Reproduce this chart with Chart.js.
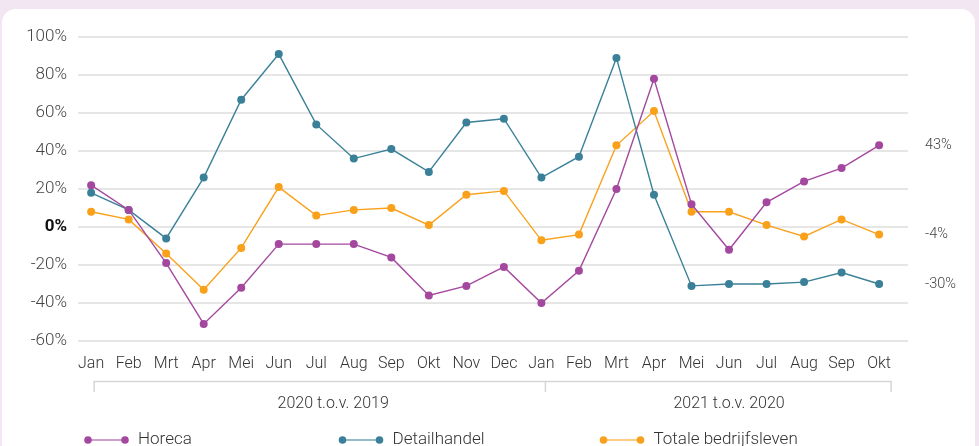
<!DOCTYPE html>
<html>
<head>
<meta charset="utf-8">
<script src="https://cdn.jsdelivr.net/npm/chart.js@4/dist/chart.umd.min.js"></script>
<style>
html,body{margin:0;padding:0;background:#f2e6f2;}
#wrap{position:relative;width:979px;height:446px;overflow:hidden;}
#card{position:absolute;left:2px;top:9px;width:973px;height:460px;background:#fff;border-radius:14px;}
#chart{position:absolute;left:0;top:0;}
</style>
</head>
<body>
<div id="wrap">
<div id="card"></div>
<canvas id="chart" width="979" height="446"></canvas>
</div>
<script>

const months = ["Jan","Feb","Mrt","Apr","Mei","Jun","Jul","Aug","Sep","Okt","Nov","Dec",
"Jan","Feb","Mrt","Apr","Mei","Jun","Jul","Aug","Sep","Okt"]

const groups = ["2020 t.o.v. 2019", "2021 t.o.v. 2020"]

const horeca = [22,9,-19,-51,-32,-9,-9,-9,-16,-36,-31,-21,-40,-23,20,78,12,-12,13,24,31,43]
const detailhandel = [18,9,-6,26,67,91,54,36,41,29,55,57,26,37,89,17,-31,-30,-30,-29,-24,-30]
const totaal = [8,4,-14,-33,-11,21,6,9,10,1,17,19,-7,-4,43,61,8,8,1,-5,4,-4]

const yTicks = [-60,-40,-20,0,20,40,60,80,100]

const FONT = "Roboto"

function points(arr){
return arr.map((v,i) => ({x:i, y:v}))
}

function makeSet(label, arr, color){
return {
label: label,
data: points(arr),
borderColor: color,
backgroundColor: color,
pointBackgroundColor: color,
pointBorderWidth: 0,
pointRadius: 4,
borderWidth: 1.4,
tension: 0
}
}

function isZero(c){
return c.tick && c.tick.value === 0
}

// labels with the last value at the right side
const endLabels = {
id: "endLabels",
afterDatasetsDraw(chart){
const ctx = chart.ctx
const y = chart.scales.y
ctx.save()
ctx.font = "300 14.5px " + FONT
ctx.fillStyle = "#444"
ctx.textAlign = "left"
ctx.textBaseline = "middle"
chart.data.datasets.forEach(ds => {
const last = ds.data[ds.data.length-1].y
ctx.fillText(last + "%", 925, y.getPixelForValue(last))
})
ctx.restore()
}
}

// year brackets under the month labels + custom legend
const extras = {
id: "extras",
afterDraw(chart){
const ctx = chart.ctx
const x = chart.scales.x
ctx.save()
const x0 = x.getPixelForValue(0) + 3
const x1 = x.getPixelForValue(12) + 4
const x2 = x.getPixelForValue(21) + 12
ctx.strokeStyle = "#d6d6d6"
ctx.lineWidth = 1.5
ctx.beginPath()
ctx.moveTo(x0, 392); ctx.lineTo(x0, 381.5); ctx.lineTo(x2, 381.5); ctx.lineTo(x2, 392)
ctx.moveTo(x1, 381.5); ctx.lineTo(x1, 392)
ctx.stroke()

ctx.font = "300 16px " + FONT
ctx.fillStyle = "#333"
ctx.textAlign = "center"
ctx.textBaseline = "middle"
ctx.fillText(groups[0], x.getPixelForValue(6.45), 404)
ctx.fillText(groups[1], x.getPixelForValue(17), 404)

const legX = [88, 342.5, 603.5]
chart.data.datasets.forEach((ds, i) => {
const lx = legX[i]
const ly = 440
ctx.globalAlpha = 0.7
ctx.strokeStyle = ds.borderColor
ctx.lineWidth = 1.6
ctx.beginPath(); ctx.moveTo(lx, ly); ctx.lineTo(lx+37, ly); ctx.stroke()
ctx.globalAlpha = 1
ctx.fillStyle = ds.borderColor
ctx.beginPath(); ctx.arc(lx, ly, 3.8, 0, Math.PI*2); ctx.fill()
ctx.beginPath(); ctx.arc(lx+37, ly, 3.8, 0, Math.PI*2); ctx.fill()
ctx.font = "300 17px " + FONT
ctx.fillStyle = "#333"
ctx.textAlign = "left"
ctx.fillText(ds.label, lx+50, ly)
})
ctx.restore()
}
}

const ctx = document.getElementById("chart").getContext("2d")

new Chart(ctx, {
type: "line",
data: {
datasets: [
makeSet("Horeca", horeca, "#a4489f"),
makeSet("Detailhandel", detailhandel, "#3a8098"),
makeSet("Totale bedrijfsleven", totaal, "#f9a11b")
]
},
options: {
responsive: false,
animation: false,
layout: {padding: {top: 37, right: 71, left: 0, bottom: 0}},
plugins: {
legend: {display: false},
tooltip: {enabled: false}
},
scales: {
x: {
type: "linear",
min: -0.35,
max: 21.77,
border: {display: false},
grid: {display: false, drawTicks: false},
afterFit(scale){ scale.height = 105 },
afterBuildTicks(scale){ scale.ticks = months.map((m,i) => ({value: i})) },
ticks: {
autoSkip: false,
maxRotation: 0,
padding: 13,
color: "#333",
font: {family: FONT, size: 16, weight: "300"},
callback: (v) => months[v]
}
},
y: {
min: -60,
max: 100,
border: {display: false},
grid: {color: "#e6e6e6", lineWidth: 2, drawTicks: false},
afterFit(scale){ scale.width = 78 },
afterBuildTicks(scale){ scale.ticks = yTicks.map(v => ({value: v})) },
ticks: {
padding: 11,
color: (c) => isZero(c) ? "#111" : "#444",
font: (c) => isZero(c)
? {family: FONT, size: 17, weight: "bold"}
: {family: FONT, size: 17, weight: "300"},
callback: (v) => v + "%"
}
}
}
},
plugins: [endLabels, extras]
})

</script>
</body>
</html>
